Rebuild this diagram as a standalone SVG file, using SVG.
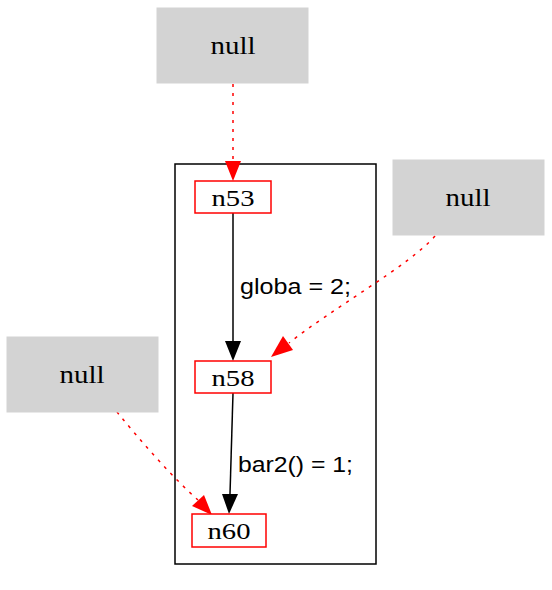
<svg xmlns="http://www.w3.org/2000/svg" width="552" height="590" viewBox="0 0 552 590">
<defs>
<style>
.ext rect{fill:#d3d3d3;stroke:#d3d3d3}
.ext text{font-family:"Liberation Serif",serif;font-size:25px;text-anchor:middle;fill:#000}
.n text{font-family:"Liberation Serif",serif;font-size:23px;text-anchor:middle;fill:#000}
.n rect{fill:#fff;stroke:#ff0000;stroke-width:1.5}
.e{fill:none;stroke:#000;stroke-width:1.5}
.d{fill:none;stroke:#ff0000;stroke-width:1.5;stroke-dasharray:3,6}
.lbl{font-family:"Liberation Sans",sans-serif;font-size:22px;fill:#000}
</style>
</defs>
<rect width="552" height="590" fill="#fff"/>
<g id="cluster"><rect x="175" y="164" width="201" height="400" fill="none" stroke="#000" stroke-width="1.5"/></g>
<g id="connectors">
<path class="d" d="M233,84L233,162"/>
<path d="M225,161L233,181L241,161z" fill="#ff0000"/>
<path class="e" d="M233,213L233,341"/>
<path d="M225,341L233,361L241,341z" fill="#000"/>
<path class="e" d="M233,393L230,494"/>
<path d="M222,494L229,514L238,494z" fill="#000"/>
<path class="d" d="M435,236C410,265 330,310 289,343"/>
<path d="M283,336L271,357L293,350z" fill="#ff0000"/>
<path class="d" d="M117,412C140,440 170,475 198,500"/>
<path d="M192,506L212,515L204,495z" fill="#ff0000"/>
<text class="lbl" x="240" y="294" textLength="111" lengthAdjust="spacingAndGlyphs">globa = 2;</text>
<text class="lbl" x="238" y="472" textLength="115" lengthAdjust="spacingAndGlyphs">bar2() = 1;</text>
</g>
<g id="null1" class="ext"><rect x="157" y="8" width="151" height="75"/><text x="233" y="54" textLength="45" lengthAdjust="spacingAndGlyphs">null</text></g>
<g id="null2" class="ext"><rect x="393" y="160" width="151" height="75"/><text x="468" y="206" textLength="45" lengthAdjust="spacingAndGlyphs">null</text></g>
<g id="null3" class="ext"><rect x="7" y="337" width="151" height="75"/><text x="82" y="383" textLength="45" lengthAdjust="spacingAndGlyphs">null</text></g>
<g id="n53" class="n"><rect x="195" y="181" width="76" height="32"/><text x="233" y="206" textLength="43" lengthAdjust="spacingAndGlyphs">n53</text></g>
<g id="n58" class="n"><rect x="195" y="361" width="76" height="32"/><text x="233" y="386" textLength="43" lengthAdjust="spacingAndGlyphs">n58</text></g>
<g id="n60" class="n"><rect x="192" y="514" width="74" height="33"/><text x="229" y="539" textLength="43" lengthAdjust="spacingAndGlyphs">n60</text></g>
</svg>
